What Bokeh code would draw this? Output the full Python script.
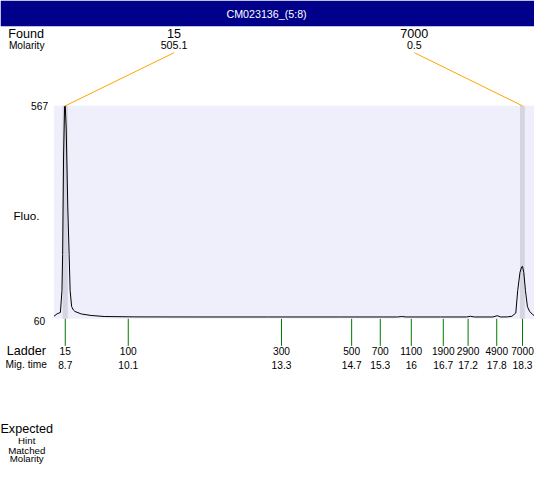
from bokeh.plotting import figure
from bokeh.models import Range1d
from bokeh.embed import file_html
from bokeh.resources import INLINE
from bokeh.core.properties import value

# ---------------- data ----------------
title_text = "CM023136_(5:8)"
y_min, y_max = 60, 567                       # fluorescence axis extremes
data_start, data_end = 8.502, 18.571         # migration-time window (s)

# electropherogram trace (migration time s, fluorescence)
trace_time = [8.502, 8.569, 8.638, 8.671, 8.685, 8.705, 8.726, 8.740, 8.760,
              8.793, 8.821, 8.842, 8.874, 8.910, 8.943, 9.078, 9.281, 9.554,
              10.2, 11.5, 13.0, 14.5, 15.70, 15.79, 15.88, 16.6, 17.15, 17.23,
              17.31, 17.70, 17.79, 17.86, 18.00, 18.097, 18.179, 18.219,
              18.266, 18.300, 18.320, 18.347, 18.382, 18.423, 18.469, 18.536,
              18.571]
trace_fluo = [66, 72, 75, 127, 213, 450, 565, 567, 512,
              326, 213, 127, 89, 81, 77.5, 71.5, 68, 65.5,
              64.6, 64.4, 64.4, 64.4, 64.4, 65.5, 64.4, 64.4, 64.4, 66,
              64.4, 64.4, 67.5, 64.4, 64.6, 66, 73.8, 127,
              170, 183.5, 185, 170, 127, 89, 77.5, 70,
              67]

# ladder
ladder_size = ["15", "100", "300", "500", "700", "1100", "1900", "2900", "4900", "7000"]
ladder_time_label = ["8.7", "10.1", "13.3", "14.7", "15.3", "16", "16.7", "17.2", "17.8", "18.3"]
ladder_time = [8.74, 10.06, 13.27, 14.74, 15.34, 15.99, 16.66, 17.18, 17.78, 18.32]

# found peaks
found_size = ["15", "7000"]
found_molarity = ["505.1", "0.5"]
found_time = [8.74, 18.32]
peak_start = [8.685, 18.266]
peak_end = [8.793, 18.368]

left_labels_top = ["Found", "Molarity"]
left_labels_bottom = ["Expected", "Hint", "Matched", "Molarity"]

# ---------------- layout helpers (reference pixel geometry 550x480) ----------------
REF_W, REF_H = 550, 480
PX_L, PX_R, PX_T, PX_B = 55, 550, 109, 329.3
FONT = value("Liberation Sans")
W, H = 534, 464
SCALE = W / REF_W


def fs(px):
    return "%.1fpx" % (px * SCALE)


def tx(px):
    return data_start + (px - PX_L) * (data_end - data_start) / (PX_R - PX_L)


def vy(py):
    return y_min + (PX_B - py) * (y_max - y_min) / (PX_B - PX_T)


p = figure(width=W, height=H, output_backend="svg", toolbar_location=None,
           x_range=Range1d(tx(0), tx(REF_W)), y_range=Range1d(vy(REF_H), vy(0)),
           x_axis_location=None, y_axis_location=None, min_border=0,
           background_fill_color="white", border_fill_color="white",
           outline_line_color=None)
p.grid.visible = False

# title bar
p.quad(left=[tx(0)], right=[tx(REF_W)], bottom=[vy(26.7)], top=[vy(0)],
       fill_color="#00008B", line_color=None)
p.text(x=[tx(274)], y=[vy(13.8)], text=[title_text], text_color="white",
       text_font=FONT, text_font_size=fs(11), text_align="center",
       text_baseline="middle")

# plot area background
p.quad(left=[data_start], right=[data_end], bottom=[y_min], top=[y_max],
       fill_color="#EFEFFC", line_color=None)
# found-peak bands
p.quad(left=peak_start, right=peak_end, bottom=[y_min] * len(peak_start),
       top=[y_max] * len(peak_start), fill_color="#D4D4E2", line_color=None)

# trace
p.line(trace_time, trace_fluo, line_color="black", line_width=1)

# y extremes
p.text(x=[tx(49)], y=[y_max], text=[str(y_max)], text_font=FONT,
       text_font_size=fs(10.5), text_align="right", text_baseline="middle",
       text_color="black")
p.text(x=[tx(46)], y=[y_min], y_offset=2, text=[str(y_min)], text_font=FONT,
       text_font_size=fs(10.5), text_align="right", text_baseline="middle",
       text_color="black")
p.text(x=[tx(26.7)], y=[vy(222)], text=["Fluo."], text_font=FONT,
       text_font_size=fs(12), text_align="center", text_baseline="middle",
       text_color="black")

# ladder ticks and labels
p.segment(x0=ladder_time, y0=[y_min] * len(ladder_time), x1=ladder_time,
          y1=[vy(357.3)] * len(ladder_time), line_color="#007A00", line_width=1)
p.text(x=ladder_time, y=[vy(362.8)] * len(ladder_time), text=ladder_size,
       text_font=FONT, text_font_size=fs(10.5), text_align="center",
       text_baseline="middle", text_color="black")
p.text(x=ladder_time, y=[vy(377)] * len(ladder_time), text=ladder_time_label,
       text_font=FONT, text_font_size=fs(10.5), text_align="center",
       text_baseline="middle", text_color="black")
p.text(x=[tx(26.7)], y=[vy(362.8)], text=["Ladder"], text_font=FONT,
       text_font_size=fs(13), text_align="center", text_baseline="middle",
       text_color="black")
p.text(x=[tx(26.5)], y=[vy(377)], text=["Mig. time"], text_font=FONT,
       text_font_size=fs(10.5), text_align="center", text_baseline="middle",
       text_color="black")

# found peak labels spread across header slots
n = len(found_size)
label_t = [data_start + (data_end - data_start) * (i + 0.5) / n for i in range(n)]
p.segment(x0=found_time, y0=[y_max] * n, x1=label_t, y1=[vy(54)] * n,
          line_color="#FFA500", line_width=1)
p.text(x=label_t, y=[vy(34.3)] * n, text=found_size, text_font=FONT,
       text_font_size=fs(13), text_align="center", text_baseline="middle",
       text_color="black")
p.text(x=label_t, y=[vy(46.5)] * n, text=found_molarity, text_font=FONT,
       text_font_size=fs(11), text_align="center", text_baseline="middle",
       text_color="black")
p.text(x=[tx(26.5)], y=[vy(34.3)], text=[left_labels_top[0]], text_font=FONT,
       text_font_size=fs(13), text_align="center", text_baseline="middle",
       text_color="black")
p.text(x=[tx(27)], y=[vy(46.5)], text=[left_labels_top[1]], text_font=FONT,
       text_font_size=fs(10.5), text_align="center", text_baseline="middle",
       text_color="black")

# bottom-left legend labels
bottom_y = [443.5, 455, 465.3, 474]
bottom_size = [13, 10, 10, 10]
for lab, yy, sz in zip(left_labels_bottom, bottom_y, bottom_size):
    p.text(x=[tx(27)], y=[vy(yy)], text=[lab], text_font=FONT,
           text_font_size=fs(sz), text_align="center", text_baseline="middle",
           text_color="black")

open("out.html", "w").write(file_html(p, INLINE))
